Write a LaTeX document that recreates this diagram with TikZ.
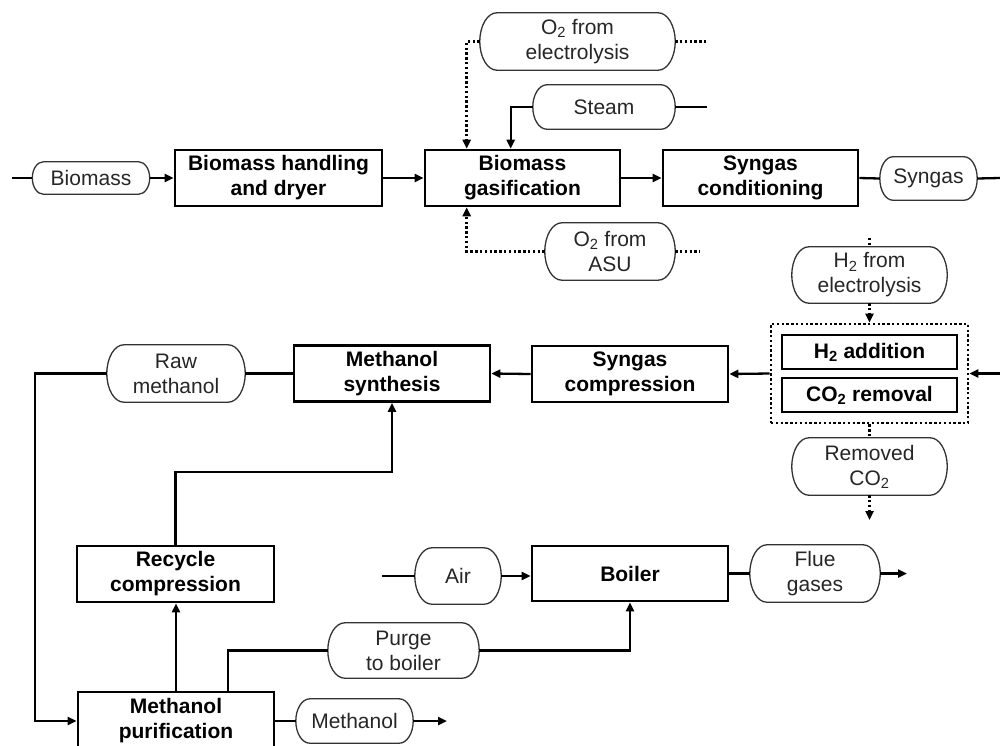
\documentclass[tikz,border=0pt]{standalone}
\usepackage{fontspec}
\setmainfont{Liberation Sans}
\usetikzlibrary{arrows.meta,calc}
\newcommand\pilloutline[2]{%
  \draw[pillline] let \p1=(#1.north), \p2=(#1.south), \n1={(\y1-\y2)/2} in
    ([xshift=#2pt]#1.north west) -- ([xshift=-#2pt]#1.north east)
    arc[start angle=90, end angle=-90, x radius=#2pt, y radius=\n1]
    -- ([xshift=#2pt]#1.south west)
    arc[start angle=270, end angle=90, x radius=#2pt, y radius=\n1]
    -- cycle;}
\begin{document}
\begin{tikzpicture}[x=1pt,y=-1pt,
  every node/.style={font=\fontsize{21}{25}\selectfont, align=center, inner sep=0pt},
  proc/.style={draw=black, line width=2.6pt, rectangle, font=\fontsize{21}{25}\selectfont\bfseries},
  pill/.style={rectangle, text=black!85},
  pillline/.style={draw=black!80, line width=1.3pt},
  grpbox/.style={draw=black, line width=2.6pt, dash pattern=on 2.4pt off 2.4pt, rectangle},
  flow/.style={line width=2.3pt, -{Triangle[length=9pt,width=8pt]}},
  plain/.style={line width=2.3pt},
  dotflow/.style={line width=2.6pt, dash pattern=on 2.4pt off 2.4pt, -{Triangle[length=9pt,width=8pt]}},
  dotline/.style={line width=2.6pt, dash pattern=on 2.4pt off 2.4pt}
]
\useasboundingbox (0,0) rectangle (1000,745);

% top row
\node[pill, minimum width=117pt, minimum height=32pt] (bio) at (91,178) {Biomass};
\node[proc, minimum width=207pt, minimum height=56pt] (bhd) at (278.5,178) {Biomass handling\\and dryer};
\node[proc, minimum width=195pt, minimum height=56pt] (gas) at (522.5,178) {Biomass\\gasification};
\node[proc, minimum width=195pt, minimum height=56pt] (scd) at (760.5,178) {Syngas\\conditioning};
\node[pill, minimum width=97pt, minimum height=43pt] (syn) at (928.5,178.5) {Syngas};
\node[pill, minimum width=195pt, minimum height=57pt] (o2e) at (577.5,41.5) {O\textsubscript{2} from\\electrolysis};
\node[pill, minimum width=142pt, minimum height=44pt] (steam) at (604,107) {Steam};
\node[pill, minimum width=130pt, minimum height=57pt] (o2a) at (610,251.5) {O\textsubscript{2} from\\ASU};

% right group
\node[pill, minimum width=155pt, minimum height=56pt] (h2e) at (869.5,275) {H\textsubscript{2} from\\electrolysis};
\node[grpbox, minimum width=197pt, minimum height=99pt] (grp) at (869.5,373.5) {};
\node[proc, minimum width=175pt, minimum height=34pt] (h2a) at (869.5,352) {H\textsubscript{2} addition};
\node[proc, minimum width=175pt, minimum height=34pt] (co2) at (869.5,395) {CO\textsubscript{2} removal};
\node[pill, minimum width=155pt, minimum height=57pt] (rco2) at (869.5,466.5) {Removed\\CO\textsubscript{2}};

% middle row
\node[proc, minimum width=196pt, minimum height=56pt] (sc) at (630,374) {Syngas\\compression};
\node[proc, minimum width=196pt, minimum height=56pt] (ms) at (392,373.5) {Methanol\\synthesis};
\node[pill, minimum width=138pt, minimum height=57pt] (rm) at (176,373.5) {Raw\\methanol};

% lower part
\node[proc, minimum width=197pt, minimum height=56pt] (rc) at (175.5,574) {Recycle\\compression};
\node[proc, minimum width=196pt, minimum height=58pt] (mp) at (176,721) {Methanol\\purification};
\node[pill, minimum width=151pt, minimum height=55pt] (purge) at (403.5,650.5) {Purge\\to boiler};
\node[pill, minimum width=86pt, minimum height=56pt] (air) at (458,576) {Air};
\node[proc, minimum width=196pt, minimum height=55pt] (boiler) at (630,573.5) {Boiler};
\node[pill, minimum width=130pt, minimum height=57pt] (flue) at (815,573.5) {Flue\\gases};
\node[pill, minimum width=117pt, minimum height=44pt] (meth) at (354.5,721) {Methanol};

% pill outlines
\pilloutline{bio}{11}
\pilloutline{syn}{13}
\pilloutline{o2e}{17}
\pilloutline{steam}{14}
\pilloutline{o2a}{17}
\pilloutline{h2e}{17}
\pilloutline{rco2}{17}
\pilloutline{rm}{17}
\pilloutline{purge}{17}
\pilloutline{air}{17}
\pilloutline{flue}{17}
\pilloutline{meth}{14}

% free ends
\coordinate (in0) at (12,178);
\coordinate (out0) at (1000,178);
\coordinate (o2eout) at (707,41.5);
\coordinate (steamout) at (707,107);
\coordinate (o2aout) at (700,251.5);
\coordinate (h2in) at (869.5,238);
\coordinate (synin) at (1000,373.5);
\coordinate (co2out) at (869.5,520);
\coordinate (airin) at (382,576);
\coordinate (flueout) at (907,573.5);
\coordinate (methout) at (447,721);

% top row connectors
\draw[plain] (in0) -- (bio.west);
\draw[flow] (bio.east) -- (bhd.west);
\draw[flow] (bhd.east) -- (gas.west);
\draw[flow] (gas.east) -- (scd.west);
\draw[plain] (scd.east) -- (syn.west);
\draw[plain] (syn.east) -- (out0);
\draw[dotflow] (o2e.west) -| ([xshift=43pt]gas.north west);
\draw[dotline] (o2e.east) -- (o2eout);
\draw[flow] (steam.west) -| ([xshift=87pt]gas.north west);
\draw[plain] (steam.east) -- (steamout);
\draw[dotflow] (o2a.west) -| ([xshift=43pt]gas.south west);
\draw[dotline] (o2a.east) -- (o2aout);

% right group connectors
\draw[dotline] (h2in) -- (h2e.north);
\draw[dotflow] (h2e.south) -- (grp.north);
\draw[flow] (synin) -- (grp.east);
\draw[dotline] (grp.south) -- (rco2.north);
\draw[dotflow] (rco2.south) -- (co2out);
\draw[flow] (grp.west) -- (sc.east);
\draw[flow] (sc.west) -- (ms.east);
\draw[plain] (ms.west) -- (rm.east);
\draw[flow] (rm.west) -- ++(-72,0) |- (mp.west);

% lower connectors
\draw[flow] (mp.north) -- (mp.north |- rc.south);
\draw[flow] (rc.north) -- ++(0,-73) -| (ms.south);
\draw[plain] ([xshift=151pt]mp.north west) |- (purge.west);
\draw[flow] (purge.east) -| (boiler.south);
\draw[plain] (airin) -- (air.west);
\draw[flow] (air.east) -- (air.east -| boiler.west);
\draw[plain] (boiler.east) -- (flue.west);
\draw[flow] (flue.east) -- (flueout);
\draw[plain] (mp.east) -- (meth.west);
\draw[flow] (meth.east) -- (methout);
\end{tikzpicture}
\end{document}
